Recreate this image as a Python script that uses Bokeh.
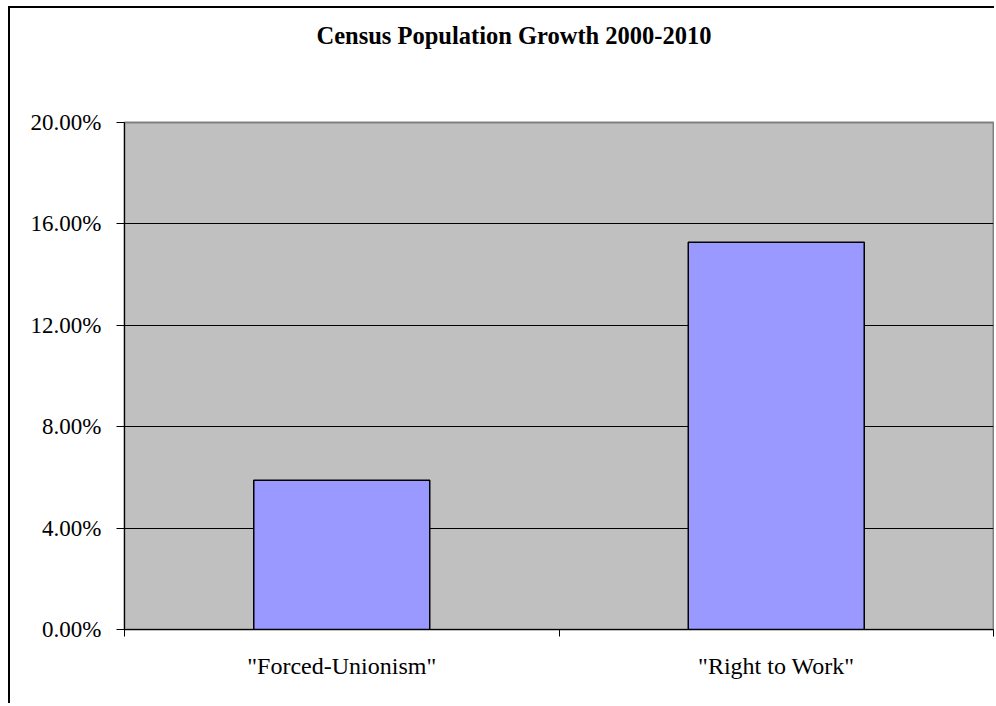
from bokeh.plotting import figure
from bokeh.models import Range1d, FixedTicker, PrintfTickFormatter, ColumnDataSource, Title
from bokeh.embed import file_html
from bokeh.resources import INLINE

# ---- data ----
categories = ['"Forced-Unionism"', '"Right to Work"']
growth_pct = [5.89, 15.28]
y_ticks = [0, 4, 8, 12, 16, 20]
title_text = "Census Population Growth 2000-2010"

n = len(categories)
xs = [i + 0.5 for i in range(n)]
source = ColumnDataSource(dict(x=xs, top=growth_pct, cat=categories))

p = figure(width=986, height=697, output_backend="svg", toolbar_location=None,
           x_range=Range1d(0, n), y_range=Range1d(y_ticks[0], y_ticks[-1]),
           min_border_left=114, min_border_right=3, min_border_top=114,
           min_border_bottom=76)
p.styles = {"border-left": "2px solid black", "border-top": "2px solid black",
            "margin-left": "8px", "margin-top": "6px"}

p.vbar(x="x", top="top", bottom=0, width=0.405, source=source,
       fill_color="#9999ff", line_color="black", line_width=1.5)

p.background_fill_color = "#c0c0c0"
p.border_fill_color = "white"
p.outline_line_color = "#808080"
p.outline_line_width = 2

# spacer between the frame and the title (blank, tiny)
spacer = Title(text=" ", text_font_size="1px", standoff=71)
p.add_layout(spacer, "above")

# title
p.title.text = title_text
p.title.align = "left"
p.title.offset = 192
p.title.vertical_align = "bottom"
p.title.standoff = 0
p.title.text_font = "Liberation Serif"
p.title.text_font_style = "bold"
p.title.text_font_size = "24.5px"
p.title.text_color = "black"

# y axis
p.yaxis.ticker = FixedTicker(ticks=y_ticks, minor_ticks=[])
p.yaxis.formatter = PrintfTickFormatter(format="%.2f%%")
p.yaxis.major_label_text_font = "Liberation Serif"
p.yaxis.major_label_text_font_size = "23px"
p.yaxis.major_label_text_color = "black"
p.yaxis.major_tick_in = 0
p.yaxis.major_tick_out = 8
p.yaxis.major_tick_line_color = "black"
p.yaxis.axis_line_color = "black"
p.yaxis.major_label_standoff = 15

# x axis: labels at category centers, ticks at category boundaries
p.xaxis.ticker = FixedTicker(ticks=xs, minor_ticks=list(range(n + 1)))
p.xaxis.major_label_overrides = {x: c for x, c in zip(xs, categories)}
p.xaxis.major_label_text_font = "Liberation Serif"
p.xaxis.major_label_text_font_size = "24px"
p.xaxis.major_label_text_color = "black"
p.xaxis.major_tick_line_color = None
p.xaxis.major_tick_in = 0
p.xaxis.major_tick_out = 0
p.xaxis.minor_tick_in = 0
p.xaxis.minor_tick_out = 7
p.xaxis.minor_tick_line_color = "black"
p.xaxis.axis_line_color = "black"
p.xaxis.major_label_standoff = 16

# grid
p.xgrid.grid_line_color = None
p.ygrid.ticker = FixedTicker(ticks=y_ticks[1:-1])
p.ygrid.grid_line_color = "black"
p.ygrid.grid_line_width = 1

open("out.html", "w").write(file_html(p, INLINE))
